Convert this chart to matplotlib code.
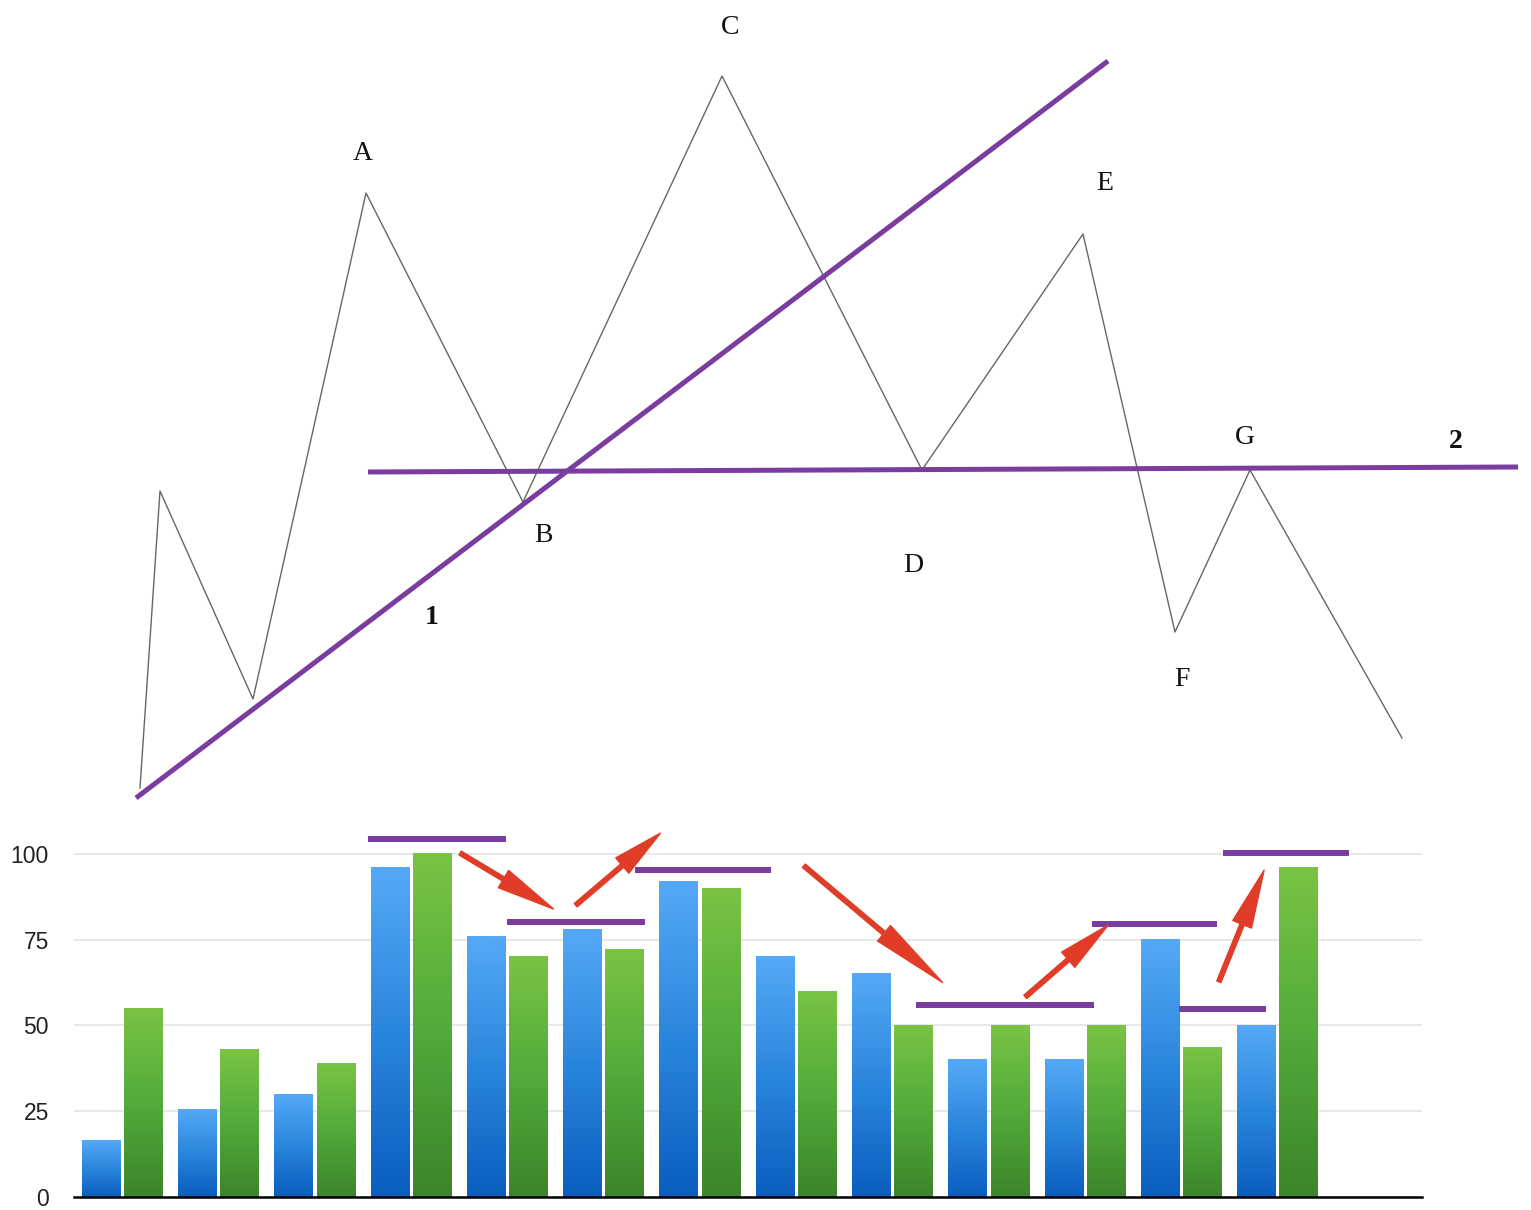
import numpy as np
import matplotlib
matplotlib.use("Agg")
import matplotlib.pyplot as plt
from matplotlib.colors import LinearSegmentedColormap

# ---- zigzag (top) : x position, price level ----
zig_x = [140, 160, 253, 366, 523, 722, 922, 1083, 1175, 1250, 1402]
zig_y = [22, 319, 111, 617, 308, 734, 340, 576, 178, 340, 72]

# pivot labels
piv_txt = ["A", "B", "C", "D", "E", "F", "G"]
piv_x = [363, 543, 730, 913, 1105, 1182, 1245]
piv_y = [657, 275, 782, 244, 627, 131, 373]

# trend lines 1 and 2
trend1_x = [136, 1108]
trend1_y = [12, 749]
trend2_x = [368, 1518]
trend2_y = [338, 343]
trend_lbl = ["1", "2"]
trend_lbl_x = [432, 1456]
trend_lbl_y = [193, 369]

# ---- bar chart (bottom) ----
blue_vals = [16.5, 25.5, 30, 96, 76, 78, 92, 70, 65, 40, 40, 75, 50]
green_vals = [55, 43, 39, 100, 70, 72, 90, 60, 50, 50, 50, 43.5, 96]
yticks = [0, 25, 50, 75, 100]

# purple level lines: (level, start, end) in group units
lvl_y = [104.3, 80.2, 95.2, 55.9, 79.5, 54.7, 100.1]
lvl_x0 = [2.55, 4.0, 5.33, 8.25, 10.07, 10.98, 11.43]
lvl_x1 = [3.99, 5.43, 6.74, 10.09, 11.37, 11.88, 12.74]

# red arrows: tail -> head
arr_x0 = [3.51, 4.71, 7.08, 9.38, 11.39]
arr_y0 = [100.2, 85.0, 96.5, 58.3, 62.7]
arr_x1 = [4.48, 5.59, 8.52, 10.24, 11.86]
arr_y1 = [83.9, 106.0, 62.5, 79.2, 95.2]

purple = "#7a3c9e"
red = "#e03c28"

fig = plt.figure(figsize=(15.31, 12.10), dpi=100)

# top panel
ax1 = fig.add_axes([0, 400 / 1210, 1, 810 / 1210])
ax1.set_xlim(0, 1531)
ax1.set_ylim(0, 810)
ax1.axis("off")
ax1.plot(zig_x, zig_y, color="#666666", lw=1.0, zorder=2)
ax1.plot(trend1_x, trend1_y, color=purple, lw=3.6, solid_capstyle="butt", zorder=3)
ax1.plot(trend2_x, trend2_y, color=purple, lw=3.6, solid_capstyle="butt", zorder=3)
for t, x, y in zip(piv_txt, piv_x, piv_y):
    ax1.text(x, y, t, ha="center", va="center", fontsize=20,
             family="Liberation Serif", color="#111111")
for t, x, y in zip(trend_lbl, trend_lbl_x, trend_lbl_y):
    ax1.text(x, y, t, ha="center", va="center", fontsize=20,
             family="Liberation Serif", fontweight="bold", color="#111111")

# bottom panel
ax2 = fig.add_axes([74 / 1531, 13 / 1210, 1348 / 1531, 381 / 1210])
blue_cmap = LinearSegmentedColormap.from_list("b", ["#0a5ebd", "#2a86dc", "#55a9f7"])
green_cmap = LinearSegmentedColormap.from_list("g", ["#3d842b", "#52ab3a", "#7ac345"])
grad = np.linspace(0, 1, 256).reshape(-1, 1)

w = 0.40
off = 0.22
for i in range(len(blue_vals)):
    for v, o, cm in ((blue_vals[i], -off, blue_cmap), (green_vals[i], off, green_cmap)):
        x0 = i + o - w / 2
        ax2.imshow(grad, extent=[x0, x0 + w, 0, v], origin="lower", cmap=cm,
                   aspect="auto", zorder=2, interpolation="bilinear")

ax2.hlines(lvl_y, lvl_x0, lvl_x1, color=purple, lw=4.3, zorder=4, clip_on=False)

# the long down arrow has a bigger head
heads = [4.2, 3.6, 5.5, 3.8, 4.2]
for xa, ya, xb, yb, hl in zip(arr_x0, arr_y0, arr_x1, arr_y1, heads):
    ax2.annotate("", xy=(xb, yb), xytext=(xa, ya),
                 arrowprops=dict(arrowstyle=f"simple,head_length={hl},head_width=1.45,tail_width=0.32",
                                 color=red, shrinkA=0, shrinkB=0, mutation_scale=10),
                 zorder=5, annotation_clip=False)

ax2.set_xlim(-0.5, 13.5)
ax2.set_ylim(0, 111)
ax2.set_yticks(yticks)
ax2.set_yticklabels([str(t) for t in yticks], family="Liberation Sans",
                    fontsize=16.5, color="#222222")
ax2.tick_params(axis="y", length=0, pad=18)
ax2.set_xticks([])
ax2.set_axisbelow(True)
ax2.yaxis.grid(True, color="#e6e6e6", lw=1.3)
for s in ("top", "right", "left"):
    ax2.spines[s].set_visible(False)
ax2.spines["bottom"].set_color("black")
ax2.spines["bottom"].set_linewidth(1.8)
ax2.patch.set_alpha(0)

fig.savefig("out.png", dpi=100)
